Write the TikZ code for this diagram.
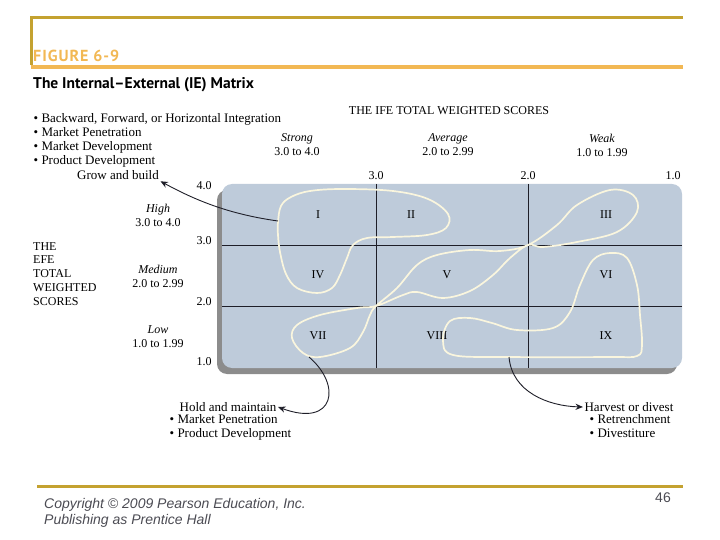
\documentclass[tikz,border=0pt]{standalone}
\usepackage{fontspec}
\setmainfont{Liberation Serif}
\newfontfamily\headfont{PT Sans}
\newfontfamily\figfont[LetterSpace=6]{PT Sans}
\newfontfamily\footfont{Liberation Sans}
\usetikzlibrary{arrows.meta,shadows}
\definecolor{gold}{RGB}{196,162,48}
\definecolor{sun}{RGB}{242,184,84}
\definecolor{slate}{RGB}{190,203,218}
\definecolor{shade}{RGB}{140,140,140}
\definecolor{cream}{RGB}{250,246,222}
\definecolor{ink}{RGB}{30,30,40}
\tikzset{
  >={Stealth[length=2.6mm,width=2.2mm]},
  head/.style={font=\headfont\bfseries\fontsize{15.5}{18}\selectfont,inner sep=0pt},
  note/.style={font=\fontsize{13}{14}\selectfont,inner sep=1.5pt,align=left},
  caps/.style={font=\fontsize{12}{13.8}\selectfont,inner sep=0pt,align=left},
  band/.style={font=\fontsize{12}{14}\selectfont,inner sep=0pt,align=center},
  tick/.style={font=\fontsize{12}{12}\selectfont,inner sep=0pt},
  cell/.style={font=\fontsize{12}{13}\selectfont,inner sep=0pt},
  matrix box/.style={fill=slate,rounded corners=10pt,minimum width=460pt,minimum height=184pt,
    inner sep=0pt,drop shadow={shadow xshift=-5pt,shadow yshift=-6pt,fill=shade,opacity=1}},
  grid line/.style={draw=ink,line width=0.8pt},
  loop/.style={draw=cream,line width=1.7pt},
  pointer/.style={->,draw=ink,line width=0.9pt},
  foot/.style={font=\footfont\fontsize{14}{16}\selectfont,inner sep=0pt,align=left,text=ink!80},
}
\begin{document}
\begin{tikzpicture}[x=1pt,y=-1pt]
  \useasboundingbox (0,0) rectangle (720,540);
  % header rules and title
  \draw[gold,line width=3pt] (31,65) -- (31,18) -- (683,18);
  \draw[sun,line width=4pt] (31,67.5) -- (683,67.5);
  \node[head,font=\figfont\bfseries\fontsize{16}{18}\selectfont,text=sun,anchor=base west] (fig) at (33,62) {FIGURE 6-9};
  \node[head,anchor=base west] (title) at (33,89) {The Internal–External (IE) Matrix};

  % strategy notes
  \node[note,anchor=north west] (growlist) at (32,112) {\textbullet\ Backward, Forward, or Horizontal Integration\\
    \textbullet\ Market Penetration\\ \textbullet\ Market Development\\ \textbullet\ Product Development};
  \node[note] (grow) at (118,175) {Grow and build};

  % axes headings
  \node[caps] (ifehead) at (449,111) {THE IFE TOTAL WEIGHTED SCORES};
  \node[caps,anchor=north west] (efehead) at (33,242) {THE\\EFE\\TOTAL\\WEIGHTED\\SCORES};
  \foreach \n/\t/\r/\x in {strong/Strong/3.0 to 4.0/297,average/Average/2.0 to 2.99/448,weak/Weak/1.0 to 1.99/602}
    \node[band] (\n) at (\x,145) {\textit{\t}\\\r};
  \foreach \n/\t/\r/\y in {high/High/3.0 to 4.0/215,medium/Medium/2.0 to 2.99/276,low/Low/1.0 to 1.99/337}
    \node[band] (\n) at (158,\y) {\textit{\t}\\\r};
  \foreach \v/\x in {3.0/376,2.0/528,1.0/673}
    \node[tick] (col\x) at (\x,176) {\v};
  \foreach \v/\y in {4.0/186,3.0/241,2.0/302,1.0/362}
    \node[tick] (row\y) at (204,\y) {\v};

  % the matrix
  \node[matrix box] (ie) at (452,276) {};
  \draw[grid line] (376,184) -- (376,368) (528,184) -- (528,368)
    (222,245) -- (682,245) (222,306) -- (682,306);
  \foreach \t/\x/\y [count=\i] in {I/318/215,II/411/215,III/606/215,IV/318/275,V/447/275,VI/606/275,VII/318/336,VIII/437/336,IX/606/336}
    \node[cell] (c\i) at (\x,\y) {\t};

  % cell groups
  \draw[loop] plot[smooth cycle,tension=0.6] coordinates {(278,222) (281,206) (291,197) (310,191) (343,189)
    (393,191) (428,199) (448,214) (446,228) (427,235) (393,237) (367,238) (353,245) (347,258) (340,275)
    (332,288) (317,293) (297,288) (286,274) (280,252) (278,235)};
  \draw[loop] plot[smooth cycle,tension=0.6] coordinates {(376,306) (397,288) (417,265) (437,255) (470,250)
    (500,251) (528,245) (557,225) (577,205) (610,190) (633,195) (637,212) (617,232) (577,242) (543,247)
    (528,245) (510,258) (493,275) (470,291) (443,298) (417,292) (403,295) (376,306) (357,308) (320,315)
    (297,325) (292,338) (303,353) (320,357) (350,348) (363,332) (370,315)};
  \draw[loop] plot[smooth cycle,tension=0.6] coordinates {(610,253) (627,258) (637,285) (640,315) (642,345)
    (637,356) (610,357) (510,357) (453,355) (443,340) (450,321) (470,318) (492,323) (517,330) (553,328)
    (570,312) (580,285) (593,260)};

  % outcome notes
  \node[note] (hold) at (228,407) {Hold and maintain};
  \node[note,anchor=north west] (holdlist) at (168,413) {\textbullet\ Market Penetration\\ \textbullet\ Product Development};
  \node[note] (harvest) at (629,407) {Harvest or divest};
  \node[note,anchor=north west] (harvestlist) at (588,413) {\textbullet\ Retrenchment\\ \textbullet\ Divestiture};

  \coordinate (b1w) at (278,221);
  \coordinate (b2s) at (309,357);
  \coordinate (b3s) at (509,357);
  \draw[pointer] (b1w) .. controls (228,214) and (195,200) .. (grow.south east);
  \draw[pointer] (b2s) .. controls (342,385) and (335,428) .. (hold.east);
  \draw[pointer] (b3s) .. controls (512,392) and (548,406) .. (harvest.west);

  % footer
  \draw[gold,line width=3pt] (37,486) -- (683,486);
  \node[foot,anchor=north west] (copy) at (44,498) {\itshape Copyright © 2009 Pearson Education, Inc.\\\itshape Publishing as Prentice Hall};
  \node[foot] (page) at (663,498) {46};
\end{tikzpicture}
\end{document}
